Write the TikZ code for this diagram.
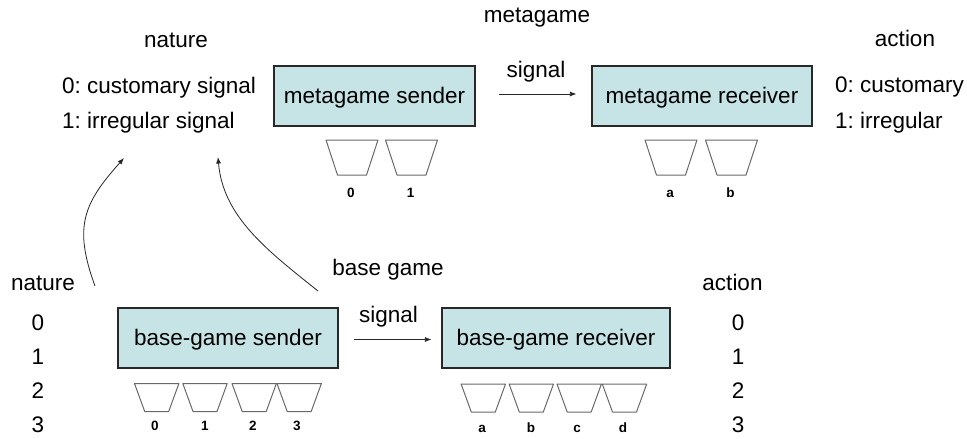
\documentclass[tikz,border=0pt]{standalone}
\usepackage{fontspec}
\setmainfont{Liberation Sans}
\usetikzlibrary{arrows.meta}
\definecolor{boxfill}{RGB}{198,228,230}
\definecolor{boxline}{RGB}{40,40,40}
\definecolor{urngray}{RGB}{105,105,105}
\frenchspacing
\begin{document}
\begin{tikzpicture}[x=1pt,y=-1pt,
  lbl/.style={anchor=base,inner sep=0pt,font=\fontsize{22.5}{27}\selectfont},
  lblw/.style={lbl,anchor=base west},
  urnlbl/.style={anchor=base,inner sep=0pt,font=\fontsize{13.5}{16}\selectfont\bfseries},
  agent/.style={draw=boxline,line width=1.2pt,fill=boxfill,minimum height=60pt,
    inner sep=0pt,text height=15.5pt,text depth=1.5pt,font=\fontsize{22.5}{27}\selectfont},
  flow/.style={-{Latex[length=6.5pt,width=5pt]},line width=0.8pt,black!85},
  urnline/.style={draw=urngray,line width=1pt,line join=round},
  bigurn/.pic={\draw[urnline] (-26,0) -- (26,0) -- (14.5,35) -- (-14.5,35) -- cycle;},
  smallurn/.pic={\draw[urnline] (-22.2,0) -- (22.2,0) -- (12,28) -- (-12,28) -- cycle;},
]
\useasboundingbox (0,0) rectangle (967,439);

% ---------- metagame ----------
\node[lbl] (mtitle) at (537,22) {metagame};
\node[agent,minimum width=201pt] (ms) at (374.5,96) {metagame sender};
\node[agent,minimum width=220pt] (mr) at (702,96) {metagame receiver};
\node[lbl] (msig) at (536,77.5) {signal};
\draw[flow,shorten <=23pt,shorten >=15pt] ([yshift=2pt]ms.east) -- ([yshift=2pt]mr.west);

\node[lbl] (nattop) at (176,47) {nature};
\node[lblw] (nat0) at (62,93) {0: customary signal};
\node[lblw] (nat1) at (62,128.5) {1: irregular signal};

\node[lbl] (acttop) at (905,46) {action};
\node[lblw] (act0) at (835,92.5) {0: customary};
\node[lblw] (act1) at (835,128) {1: irregular};

% urns of the metagame players
\foreach \cx/\t [count=\i] in {352/0,411.5/1} {
  \pic at (\cx,140) {bigurn};
  \node[urnlbl] (mslbl\i) at (\cx-1,197.5) {\t};
}
\foreach \cx/\t [count=\i] in {671/a,731.5/b} {
  \pic at (\cx,140) {bigurn};
  \node[urnlbl] (mrlbl\i) at (\cx-1,197) {\t};
}

% ---------- base game ----------
\node[lbl] (bgame) at (388,275) {base game};
\node[agent,minimum width=220pt] (bs) at (228,338) {base-game sender};
\node[agent,minimum width=228pt] (br) at (556,338) {base-game receiver};
\node[lbl] (bsig) at (388.5,322) {signal};
\draw[flow,shorten <=15pt,shorten >=10pt] ([yshift=-1.5pt]bs.east) -- ([yshift=-1.5pt]br.west);

\node[lbl] (natbot) at (43,290) {nature};
\node[lbl] (actbot) at (732.5,290) {action};
\foreach \d/\y in {0/330,1/364,2/398,3/432} {
  \node[lbl] (nd\d) at (38,\y) {\d};
  \node[lbl] (ad\d) at (738,\y) {\d};
}

% urns of the base-game players
\foreach \cx/\lx/\t [count=\i] in {156.7/155/0,205/205/1,254.2/253/2,299.2/297/3} {
  \pic at (\cx,383.5) {smallurn};
  \node[urnlbl] (bslbl\i) at (\lx,430) {\t};
}
\foreach \cx/\lx/\t [count=\i] in {483.3/482/a,531.3/531/b,579.2/577/c,624.5/623/d} {
  \pic at (\cx,384) {smallurn};
  \node[urnlbl] (brlbl\i) at (\lx,432) {\t};
}

% ---------- links from the base game to nature of the metagame ----------
\coordinate (natfoot) at (95,286);
\coordinate (sigtip1) at (124,158);
\coordinate (gamefoot) at (318,291);
\coordinate (sigtip2) at (218,157);
\draw[flow] (natfoot) .. controls +(-22,-60) and +(-40,45) .. (sigtip1);
\draw[flow] (gamefoot) .. controls +(-50,-40) and +(5,60) .. (sigtip2);
\end{tikzpicture}
\end{document}
